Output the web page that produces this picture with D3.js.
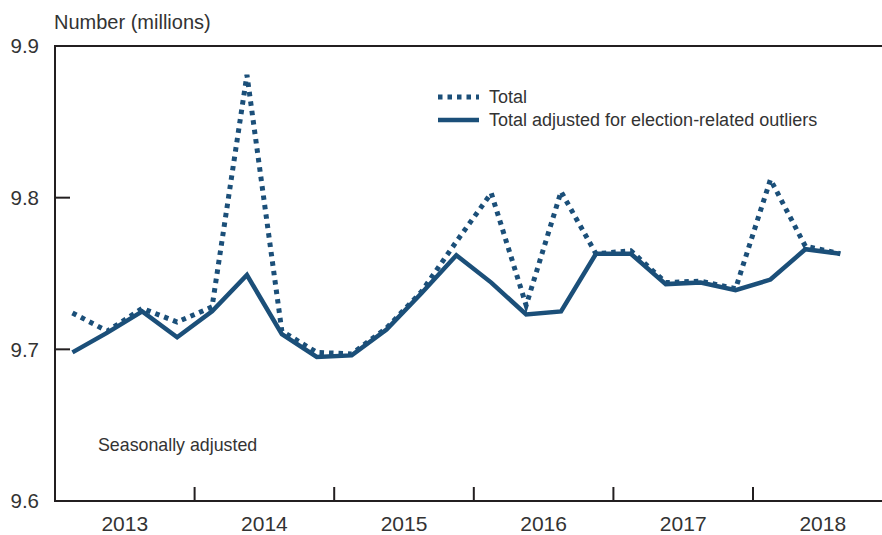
<!DOCTYPE html>
<html>
<head>
<meta charset="utf-8">
<script src="https://cdn.jsdelivr.net/npm/d3@7"></script>
<style>
  html, body { margin: 0; padding: 0; background: #fff; }
  svg { display: block; }
  text { font-family: "Liberation Sans", Arial, sans-serif; fill: #333333; }
</style>
</head>
<body>
<svg id="chart" width="882" height="535"></svg>
<script>
// ---- data ----
const years = [2013, 2014, 2015, 2016, 2017, 2018];
const quarters = ["2013Q1","2013Q2","2013Q3","2013Q4","2014Q1","2014Q2","2014Q3","2014Q4",
  "2015Q1","2015Q2","2015Q3","2015Q4","2016Q1","2016Q2","2016Q3","2016Q4",
  "2017Q1","2017Q2","2017Q3","2017Q4","2018Q1","2018Q2","2018Q3"];
const total = [9.724, 9.712, 9.727, 9.718, 9.728, 9.881, 9.712, 9.698, 9.697, 9.714, 9.738, 9.771,
  9.803, 9.729, 9.804, 9.763, 9.765, 9.744, 9.745, 9.740, 9.812, 9.768, 9.763];
const adjusted = [9.698, 9.711, 9.725, 9.708, 9.725, 9.749, 9.710, 9.695, 9.696, 9.713, 9.737, 9.762,
  9.744, 9.723, 9.725, 9.763, 9.763, 9.743, 9.744, 9.739, 9.746, 9.766, 9.763];
const yTicks = [9.6, 9.7, 9.8, 9.9];
const seriesNames = ["Total", "Total adjusted for election-related outliers"];

(function () {
// ---- layout ----
const svg = d3.select("#chart");
const mLeft = 55, mRight = 882, mTop = 46, mBottom = 501;
const color = "#1b4f79";
const axisColor = "#231f20";

const qTime = quarters.map(q => +q.slice(0, 4) + (+q.slice(5) - 0.5) / 4);
const x = d3.scaleLinear().domain([2013, 2018.924]).range([mLeft, mRight]);
const y = d3.scaleLinear().domain([9.6, 9.9]).range([mBottom, mTop]);

// frame
svg.append("line").attr("x1", mLeft).attr("x2", mRight).attr("y1", mTop).attr("y2", mTop)
  .attr("stroke", axisColor).attr("stroke-width", 2);
svg.append("line").attr("x1", mLeft).attr("x2", mLeft).attr("y1", mTop - 1).attr("y2", mBottom + 1)
  .attr("stroke", axisColor).attr("stroke-width", 2);
svg.append("line").attr("x1", mLeft).attr("x2", mRight).attr("y1", mBottom).attr("y2", mBottom)
  .attr("stroke", axisColor).attr("stroke-width", 2);

// y ticks and labels
svg.selectAll(".ytick").data(yTicks.filter(v => v > 9.6 && v < 9.9)).enter().append("line")
  .attr("x1", mLeft).attr("x2", mLeft + 15).attr("y1", d => y(d)).attr("y2", d => y(d))
  .attr("stroke", axisColor).attr("stroke-width", 2);
svg.selectAll(".ylab").data(yTicks).enter().append("text")
  .attr("x", 39).attr("y", d => y(d)).attr("dy", "0.36em").attr("text-anchor", "end")
  .attr("font-size", 20.5).text(d => d.toFixed(1));

// x ticks (year boundaries) and labels
svg.selectAll(".xtick").data(years.slice(1)).enter().append("line")
  .attr("x1", d => x(d)).attr("x2", d => x(d)).attr("y1", mBottom).attr("y2", mBottom - 14)
  .attr("stroke", axisColor).attr("stroke-width", 2);
svg.selectAll(".xlab").data(years).enter().append("text")
  .attr("x", d => x(d + 0.5)).attr("y", 531).attr("text-anchor", "middle")
  .attr("font-size", 21).text(d => d);

// titles
svg.append("text").attr("x", 54).attr("y", 29).attr("font-size", 20).text("Number (millions)");
svg.append("text").attr("x", 98).attr("y", 451).attr("font-size", 17.8).text("Seasonally adjusted");

// lines
const line = d3.line().x((d, i) => x(qTime[i])).y(d => y(d)).curve(d3.curveLinear);
svg.append("path").datum(adjusted).attr("d", line).attr("fill", "none")
  .attr("stroke", color).attr("stroke-width", 4.5).attr("stroke-linejoin", "miter");
svg.append("path").datum(total).attr("d", line).attr("fill", "none")
  .attr("stroke", color).attr("stroke-width", 5).attr("stroke-dasharray", "4.5,5");

// legend
const lg = svg.append("g");
const lgItems = [{name: seriesNames[0], dash: "4.5,5", w: 5, yy: 97}, {name: seriesNames[1], dash: null, w: 4.5, yy: 120}];
lgItems.forEach(it => {
  lg.append("line").attr("x1", 438).attr("x2", 479).attr("y1", it.yy).attr("y2", it.yy)
    .attr("stroke", color).attr("stroke-width", it.w).attr("stroke-dasharray", it.dash);
  lg.append("text").attr("x", 489).attr("y", it.yy).attr("dy", "0.36em")
    .attr("font-size", 18).text(it.name);
});
})();
</script>
</body>
</html>
